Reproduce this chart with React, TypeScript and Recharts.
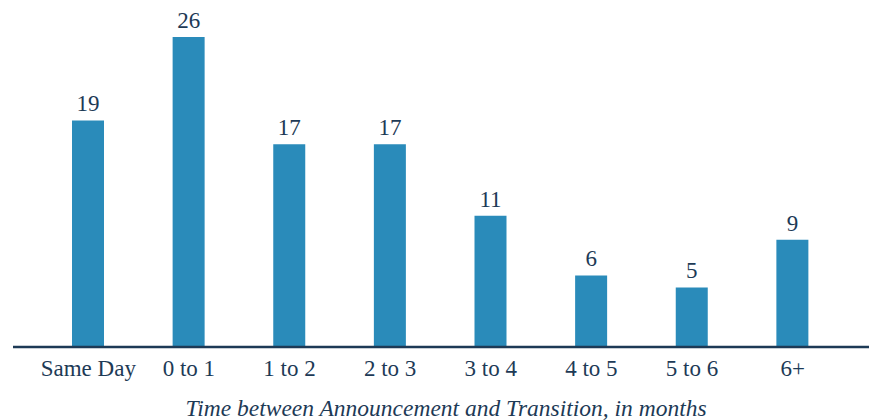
import React from 'react';
import { BarChart, Bar, XAxis, YAxis, LabelList } from 'recharts';

const categories = ['Same Day', '0 to 1', '1 to 2', '2 to 3', '3 to 4', '4 to 5', '5 to 6', '6+'];
const counts = [19, 26, 17, 17, 11, 6, 5, 9];

const data = categories.map((c, i) => ({ name: c, value: counts[i] }));

const TEXT = '#1d3a56';
const BAR = '#2a8bba';
const FONT = '"Liberation Serif", "DejaVu Serif", serif';

export default function App() {
  return (
    <div style={{ position: 'absolute', left: 0, top: 0, width: 869, height: 420, background: '#fff' }}>
      <BarChart width={869} height={420} data={data} margin={{ top: 37, right: 0, left: 13, bottom: 0 }}>
        <YAxis hide domain={[0, 26]} />
        <XAxis
          dataKey="name"
          height={73}
          padding={{ left: 25, right: 26 }}
          axisLine={{ stroke: '#1d3a56', strokeWidth: 2.5 }}
          tickLine={false}
          tickSize={0}
          tickMargin={13}
          interval={0}
          tick={{ fill: TEXT, fontSize: 23, fontFamily: FONT }}
          label={{
            value: 'Time between Announcement and Transition, in months',
            position: 'insideBottom',
            offset: 4,
            dx: 5,
            style: { fill: TEXT, fontSize: 23.5, fontFamily: FONT, fontStyle: 'italic' },
          }}
        />
        <Bar dataKey="value" fill={BAR} barSize={32} isAnimationActive={false}>
          <LabelList dataKey="value" position="top" offset={9} style={{ fill: TEXT, fontSize: 23, fontFamily: FONT }} />
        </Bar>
      </BarChart>
    </div>
  );
}
